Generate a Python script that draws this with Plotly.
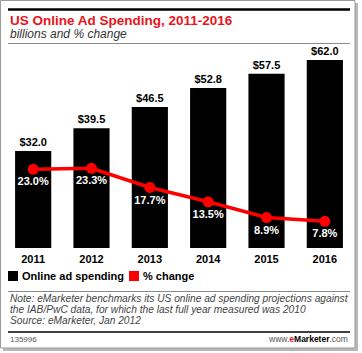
import plotly.graph_objects as go

W, H = 362, 353

years = ["2011", "2012", "2013", "2014", "2015", "2016"]
spending = [32.0, 39.5, 46.5, 52.8, 57.5, 62.0]
pct_change = [23.0, 23.3, 17.7, 13.5, 8.9, 7.8]
spend_labels = ["$32.0", "$39.5", "$46.5", "$52.8", "$57.5", "$62.0"]
pct_labels = ["23.0%", "23.3%", "17.7%", "13.5%", "8.9%", "7.8%"]
note_lines = [
    "Note: eMarketer benchmarks its US online ad spending projections against",
    "the IAB/PwC data, for which the last full year measured was 2010",
    "Source: eMarketer, Jan 2012",
]

FONT = "Liberation Sans, Arial, sans-serif"
RED = "#ff0000"


def px(x):
    return x / W


def py(y):
    return 1 - y / H


# plot area in pixels
PL, PR, PT, PB = 4, 354, 50, 248
px_per_unit_bar = (248 - 60) / 62.0
px_per_unit_pct = (221 - 169) / (23.0 - 7.8)

fig = go.Figure()
fig.add_trace(go.Bar(
    x=years, y=spending, width=0.62,
    marker=dict(color="black", line=dict(width=0)),
    text=spend_labels, textposition="outside", cliponaxis=False,
    textfont=dict(family=FONT, size=11, color="black", weight="bold"),
    showlegend=False, hoverinfo="skip",
))
fig.add_trace(go.Scatter(
    x=years, y=pct_change, yaxis="y2", mode="lines+markers+text",
    line=dict(color=RED, width=3.5),
    marker=dict(color=RED, size=11),
    text=pct_labels, textposition="bottom center", cliponaxis=False,
    textfont=dict(family=FONT, size=11, color="white", weight="bold"),
    showlegend=False, hoverinfo="skip",
))

shapes = [
    # shadow
    dict(type="rect", xref="paper", yref="paper", x0=px(3), x1=px(358), y0=py(351), y1=py(3),
         fillcolor="#b8b8b8", line=dict(width=0), layer="below"),
    # frame
    dict(type="rect", xref="paper", yref="paper", x0=px(0.5), x1=px(355), y0=py(348), y1=py(0.5),
         fillcolor="white", line=dict(color="#9a9a9a", width=1), layer="below"),
    # top black rule
    dict(type="line", xref="paper", yref="paper", x0=px(8), x1=px(350), y0=py(9.5), y1=py(9.5),
         line=dict(color="black", width=2.5)),
    # gray rule below subtitle
    dict(type="line", xref="paper", yref="paper", x0=px(8), x1=px(350), y0=py(43.5), y1=py(43.5),
         line=dict(color="#8a8a8a", width=1)),
    # gray rule above note
    dict(type="line", xref="paper", yref="paper", x0=px(8), x1=px(350), y0=py(291.5), y1=py(291.5),
         line=dict(color="#8a8a8a", width=1)),
    # black rule above footer
    dict(type="line", xref="paper", yref="paper", x0=px(8), x1=px(350), y0=py(332), y1=py(332),
         line=dict(color="black", width=1.5)),
    # legend squares
    dict(type="rect", xref="paper", yref="paper", x0=px(8), x1=px(18), y0=py(281), y1=py(271),
         fillcolor="black", line=dict(width=0)),
    dict(type="rect", xref="paper", yref="paper", x0=px(129), x1=px(139), y0=py(281), y1=py(271),
         fillcolor=RED, line=dict(width=0)),
]

annotations = [
    dict(text="US Online Ad Spending, 2011-2016", x=px(8), y=py(20), xanchor="left", yanchor="middle",
         font=dict(family=FONT, size=13.5, color="#e8141c", weight="bold")),
    dict(text="billions and % change", x=px(8), y=py(34), xanchor="left", yanchor="middle",
         font=dict(family=FONT, size=12, color="#333333", style="italic")),
    dict(text="Online ad spending", x=px(20), y=py(276), xanchor="left", yanchor="middle",
         font=dict(family=FONT, size=11, color="black", weight="bold")),
    dict(text="% change", x=px(141), y=py(276), xanchor="left", yanchor="middle",
         font=dict(family=FONT, size=11, color="black", weight="bold")),
    dict(text="135996", x=px(8), y=py(339), xanchor="left", yanchor="middle",
         font=dict(family=FONT, size=8, color="#555555")),
    dict(text="<span style='color:#555555'>www.</span><b><span style='color:#e8141c'>e</span>Marketer</b>"
              "<span style='color:#555555'>.com</span>",
         x=px(350), y=py(339), xanchor="right", yanchor="middle",
         font=dict(family=FONT, size=8.5, color="black")),
]
for i, line in enumerate(note_lines):
    annotations.append(dict(text=line, x=px(8), y=py(298.5 + 11 * i), xanchor="left", yanchor="middle",
                            font=dict(family=FONT, size=10.2, color="#444444", style="italic")))
for a in annotations:
    a.update(xref="paper", yref="paper", showarrow=False)

fig.update_layout(
    width=W, height=H,
    margin=dict(l=0, r=0, t=0, b=0),
    paper_bgcolor="white", plot_bgcolor="rgba(0,0,0,0)",
    bargap=0.38,
    xaxis=dict(domain=[px(PL), px(PR)], showgrid=False, zeroline=False, showline=False,
               ticks="", ticklabelstandoff=3,
               tickfont=dict(family=FONT, size=11, color="black", weight="bold"),
               fixedrange=True),
    yaxis=dict(domain=[py(PB), py(PT)], range=[0, (PB - PT) / px_per_unit_bar],
               visible=False, fixedrange=True),
    yaxis2=dict(overlaying="y", range=[0, (PB - PT) / px_per_unit_pct], visible=False,
                fixedrange=True),
    shapes=shapes, annotations=annotations,
)

fig.write_html("out.html")
